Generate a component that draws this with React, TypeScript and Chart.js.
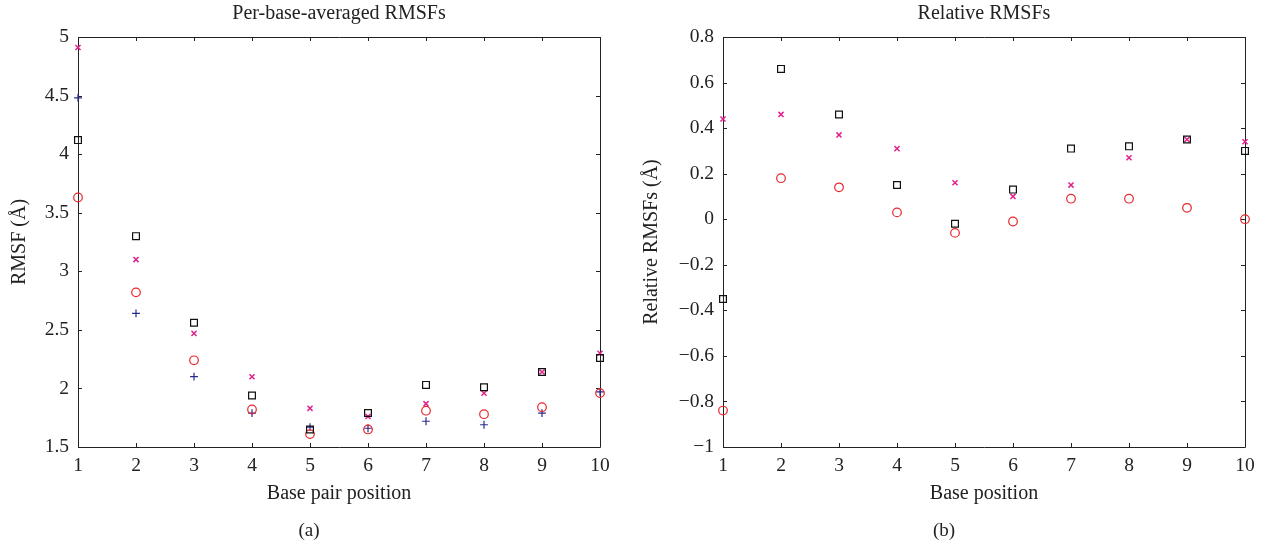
import React, { useEffect, useRef } from "react";
import { Chart, registerables } from "chart.js";

Chart.register(...registerables);

// ---------- data ----------
const positions = [1, 2, 3, 4, 5, 6, 7, 8, 9, 10];

// (a) Per-base-averaged RMSFs
const rmsfSquare = [4.12, 3.3, 2.56, 1.94, 1.65, 1.79, 2.03, 2.01, 2.14, 2.26];
const rmsfCross = [4.91, 3.1, 2.47, 2.1, 1.83, 1.76, 1.87, 1.96, 2.14, 2.3];
const rmsfCircle = [3.63, 2.82, 2.24, 1.82, 1.61, 1.65, 1.81, 1.78, 1.84, 1.96];
const rmsfPlus = [4.48, 2.64, 2.1, 1.79, 1.67, 1.66, 1.72, 1.69, 1.79, 1.97];

// (b) Relative RMSFs
const relSquare = [-0.35, 0.66, 0.46, 0.15, -0.02, 0.13, 0.31, 0.32, 0.35, 0.3];
const relCross = [0.44, 0.46, 0.37, 0.31, 0.16, 0.1, 0.15, 0.27, 0.35, 0.34];
const relCircle = [-0.84, 0.18, 0.14, 0.03, -0.06, -0.01, 0.09, 0.09, 0.05, 0.0];

const titleA = "Per-base-averaged RMSFs";
const titleB = "Relative RMSFs";
const xLabelA = "Base pair position";
const xLabelB = "Base position";
const yLabelA = "RMSF (Å)";
const yLabelB = "Relative RMSFs (Å)";

// ---------- styles ----------
const FONT = "'Liberation Serif', 'Times New Roman', serif";
const INK = "#222";
const C_SQUARE = "#111111";
const C_CROSS = "#e0238c";
const C_CIRCLE = "#e8262c";
const C_PLUS = "#2b2b8f";
const LABEL_SIZE = 20;
const TICK_SIZE = 19.5;

const toXY = (ys: number[]) => positions.map((x, i) => ({ x, y: ys[i] }));

const frameTicks = {
  id: "frameTicks",
  beforeDatasetsDraw(chart: any) {
    const { ctx, chartArea, scales } = chart;
    const { left, right, top, bottom } = chartArea;
    const L = 4;
    ctx.save();
    ctx.strokeStyle = INK;
    ctx.lineWidth = 1;
    ctx.beginPath();
    ctx.rect(Math.round(left) + 0.5, Math.round(top) + 0.5, Math.round(right - left), Math.round(bottom - top));
    ctx.stroke();
    ctx.beginPath();
    scales.x.ticks.forEach((t: any) => {
      const px = Math.round(scales.x.getPixelForValue(t.value)) + 0.5;
      ctx.moveTo(px, bottom);
      ctx.lineTo(px, bottom - L);
      ctx.moveTo(px, top);
      ctx.lineTo(px, top + L);
    });
    scales.y.ticks.forEach((t: any) => {
      const py = Math.round(scales.y.getPixelForValue(t.value)) + 0.5;
      ctx.moveTo(left, py);
      ctx.lineTo(left + L, py);
      ctx.moveTo(right, py);
      ctx.lineTo(right - L, py);
    });
    ctx.stroke();
    ctx.restore();
  },
};

const fmt = (v: any) => {
  const n = Math.round(Number(v) * 100) / 100;
  if (n === 0) return "0";
  return (n < 0 ? "\u2212" : "") + String(Math.abs(n));
};

type Series = { label: string; data: number[]; style: string; color: string; radius: number; width: number };

interface PanelProps {
  width: number;
  height: number;
  title: string;
  xLabel: string;
  yLabel: string;
  yMin: number;
  yMax: number;
  yStep: number;
  yAxisWidth: number;
  yTitlePad: number;
  padRight: number;
  series: Series[];
}

function Panel(p: PanelProps) {
  const ref = useRef<HTMLCanvasElement>(null);
  useEffect(() => {
    if (!ref.current) return;
    const chart = new Chart(ref.current, {
      type: "scatter",
      data: {
        datasets: p.series.map((s) => ({
          label: s.label,
          data: toXY(s.data),
          pointStyle: s.style as any,
          pointRadius: s.radius,
          pointHoverRadius: s.radius,
          borderColor: s.color,
          backgroundColor: "rgba(0,0,0,0)",
          pointBorderWidth: s.width,
          borderWidth: s.width,
          showLine: false,
          clip: false as any,
        })),
      },
      options: {
        responsive: false,
        animation: false,
        layout: { padding: { left: 0, right: p.padRight, top: 0, bottom: 0 } },
        plugins: {
          legend: { display: false },
          tooltip: { enabled: false },
          title: {
            display: true,
            text: p.title,
            fullSize: false,
            color: INK,
            font: { family: FONT, size: LABEL_SIZE, weight: "normal" },
            padding: { top: 2, bottom: 11 },
          },
        },
        scales: {
          x: {
            type: "linear",
            min: 1,
            max: 10,
            grid: { display: false, drawTicks: false },
            border: { display: false },
            ticks: {
              stepSize: 1,
              padding: 7,
              color: INK,
              font: { family: FONT, size: TICK_SIZE },
              callback: (v: any) => fmt(v),
            },
            title: {
              display: true,
              text: p.xLabel,
              color: INK,
              font: { family: FONT, size: LABEL_SIZE },
              padding: { top: 0, bottom: 37 },
            },
            afterFit: (s: any) => {
              s.height = 96;
            },
          },
          y: {
            type: "linear",
            min: p.yMin,
            max: p.yMax,
            grid: { display: false, drawTicks: false },
            border: { display: false },
            ticks: {
              stepSize: p.yStep,
              padding: 9,
              color: INK,
              font: { family: FONT, size: TICK_SIZE },
              callback: (v: any) => fmt(v),
            },
            title: {
              display: true,
              text: p.yLabel,
              color: INK,
              font: { family: FONT, size: LABEL_SIZE },
              padding: { top: p.yTitlePad, bottom: 0 },
            },
            afterFit: (s: any) => {
              s.width = p.yAxisWidth;
            },
          },
        },
      },
      plugins: [frameTicks],
    });
    return () => chart.destroy();
  }, []);
  return <canvas ref={ref} width={p.width} height={p.height} style={{ display: "block" }} />;
}

const seriesA: Series[] = [
  { label: "square", data: rmsfSquare, style: "rect", color: C_SQUARE, radius: 4.8, width: 1.2 },
  { label: "cross", data: rmsfCross, style: "crossRot", color: C_CROSS, radius: 3.6, width: 1.5 },
  { label: "circle", data: rmsfCircle, style: "circle", color: C_CIRCLE, radius: 4.3, width: 1.2 },
  { label: "plus", data: rmsfPlus, style: "cross", color: C_PLUS, radius: 3.9, width: 1.2 },
];

const seriesB: Series[] = [
  { label: "square", data: relSquare, style: "rect", color: C_SQUARE, radius: 4.8, width: 1.2 },
  { label: "cross", data: relCross, style: "crossRot", color: C_CROSS, radius: 3.6, width: 1.5 },
  { label: "circle", data: relCircle, style: "circle", color: C_CIRCLE, radius: 4.3, width: 1.2 },
];

const captionStyle: React.CSSProperties = {
  position: "absolute",
  top: 518,
  width: 60,
  textAlign: "center",
  fontFamily: FONT,
  fontSize: 19,
  lineHeight: "24px",
  color: INK,
};

export default function App() {
  return (
    <div style={{ position: "absolute", left: 0, top: 0, width: 1263, height: 543, background: "#fff", overflow: "hidden" }}>
      <div style={{ position: "absolute", left: 0, top: 0 }}>
        <Panel
          width={631}
          height={543}
          title={titleA}
          xLabel={xLabelA}
          yLabel={yLabelA}
          yMin={1.5}
          yMax={5}
          yStep={0.5}
          yAxisWidth={78}
          yTitlePad={8}
          padRight={31}
          series={seriesA}
        />
      </div>
      <div style={{ position: "absolute", left: 631, top: 0 }}>
        <Panel
          width={632}
          height={543}
          title={titleB}
          xLabel={xLabelB}
          yLabel={yLabelB}
          yMin={-1}
          yMax={0.8}
          yStep={0.2}
          yAxisWidth={92}
          yTitlePad={9}
          padRight={18}
          series={seriesB}
        />
      </div>
      <div style={{ ...captionStyle, left: 309 - 30 }}>(a)</div>
      <div style={{ ...captionStyle, left: 944 - 30 }}>(b)</div>
    </div>
  );
}
